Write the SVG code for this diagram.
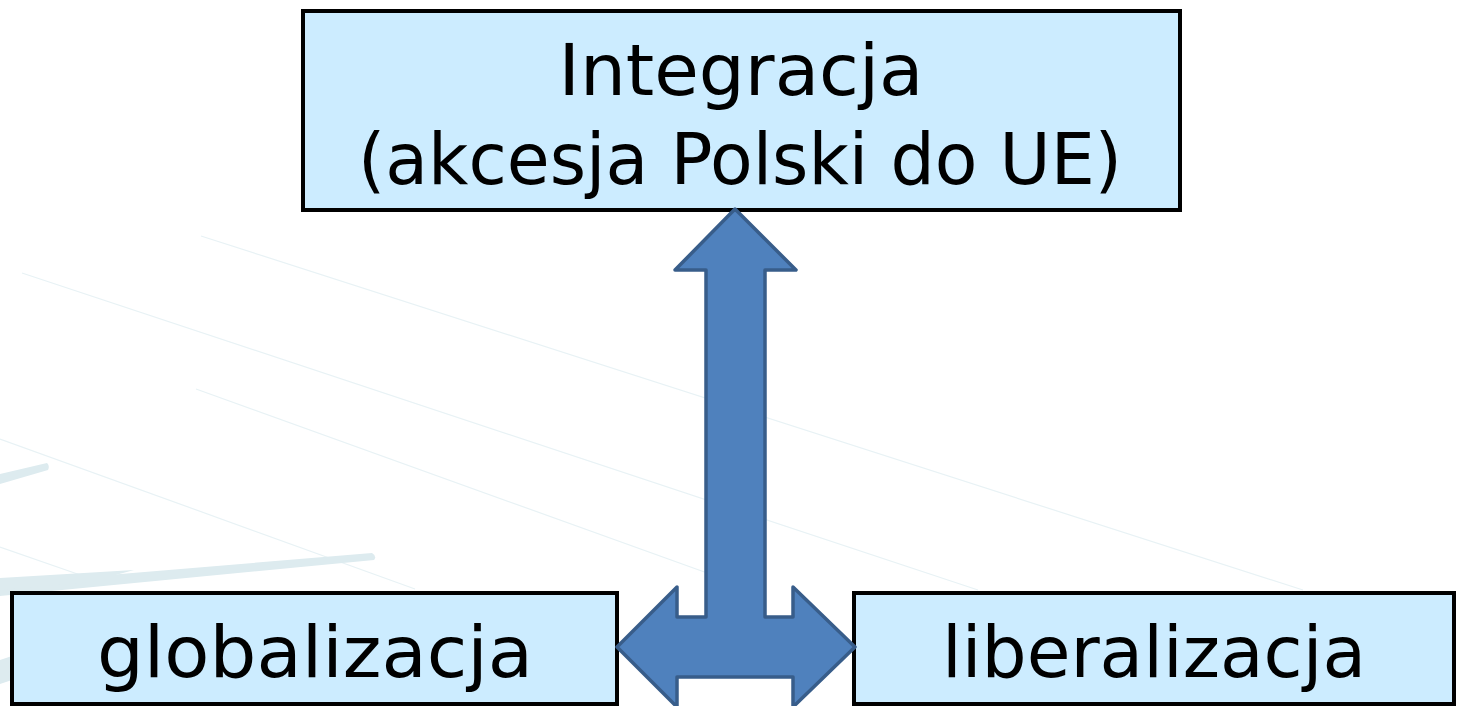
<svg xmlns="http://www.w3.org/2000/svg" width="1458" height="706" viewBox="0 0 1458 706">
<style>
.bg{fill:#ffffff}
.ln{stroke:#E8F2F5;stroke-width:1.2;fill:none}
.st{fill:#DDEBEF}
.box{fill:#CCECFF;stroke:#000000;stroke-width:4}
.lbl{font-family:"DejaVu Sans","Liberation Sans",sans-serif;font-size:72px;fill:#000000;text-anchor:middle}
.arrow{fill:#4F81BD;stroke:#385D8A;stroke-width:3.5;stroke-linejoin:round}
</style>
<rect class="bg" x="0" y="0" width="1458" height="706"/>
<g id="background">
<line class="ln" x1="201" y1="236" x2="1303" y2="590"/>
<line class="ln" x1="22" y1="273" x2="978" y2="590"/>
<line class="ln" x1="196" y1="389" x2="760" y2="592"/>
<line class="ln" x1="0" y1="439" x2="415" y2="589"/>
<line class="ln" x1="0" y1="547" x2="89" y2="578"/>
<path class="st" d="M0,474 L47,463 Q50,466 48,470 L0,484 Z"/>
<path class="st" d="M0,584 L372,553 Q377,556 374,560 L0,596 Z"/>
<path class="st" d="M0,578 L134,570 L90,582 L0,590 Z"/>
<path class="st" d="M0,660 L12,656 L12,680 L0,684 Z"/>
</g>
<g id="node-integracja">
<rect class="box" x="303" y="11" width="877" height="199"/>
<text class="lbl" x="741" y="95" textLength="365" lengthAdjust="spacingAndGlyphs">Integracja</text>
<text class="lbl" x="740" y="184" textLength="764" lengthAdjust="spacingAndGlyphs">(akcesja Polski do UE)</text>
</g>
<g id="node-globalizacja">
<rect class="box" x="12" y="593" width="605" height="111"/>
<text class="lbl" x="315" y="677" textLength="436" lengthAdjust="spacingAndGlyphs">globalizacja</text>
</g>
<g id="node-liberalizacja">
<rect class="box" x="854" y="593" width="600" height="111"/>
<text class="lbl" x="1154" y="677" textLength="424" lengthAdjust="spacingAndGlyphs">liberalizacja</text>
</g>
<g id="connectors">
<path class="arrow" d="M735,209 L796,270 L765,270 L765,617 L793,617 L793,587 L855,647 L793,707 L793,677 L677,677 L677,707 L617,647 L677,587 L677,617 L706,617 L706,270 L675,270 Z"/>
</g>
</svg>
